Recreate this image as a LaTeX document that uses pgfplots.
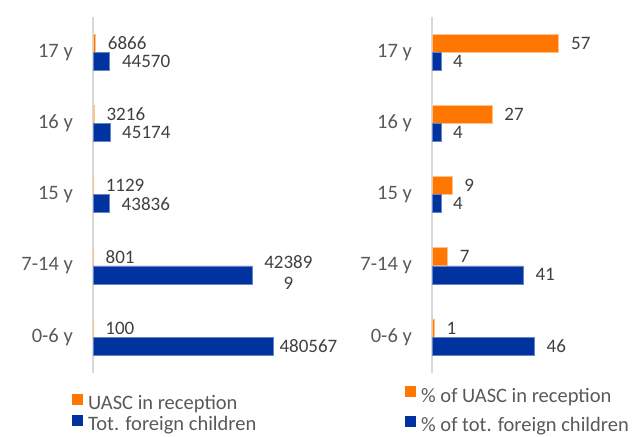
\documentclass[border=0pt]{standalone}
\usepackage{fontspec}
\setmainfont{Carlito}
\usepackage{pgfplots}
\pgfplotsset{compat=1.18}

\definecolor{uasc}{RGB}{255,119,0}
\definecolor{tot}{RGB}{0,51,160}
\definecolor{lbl}{RGB}{89,89,89}
\definecolor{val}{RGB}{64,64,64}
\definecolor{axln}{RGB}{217,217,217}

% wrapped data label as Excel shows it
\protected\def\twoline{\begin{tabular}{@{}c@{}}42389\\9\end{tabular}}

\pgfplotsset{
  hbar/.style={
    xbar, scale only axis, height=356bp, clip=false,
    ymin=-0.5, ymax=4.5, xmin=0,
    ytick={0,...,4}, yticklabels={0-6 y,7-14 y,15 y,16 y,17 y},
    axis x line=none, axis y line*=left,
    y axis line style={draw=axln, line width=1.5bp, -},
    major tick length=0pt,
    yticklabel style={font=\fontsize{20.5bp}{24bp}\selectfont, text=lbl, inner sep=0pt, xshift=-20bp},
    bar width=18bp,
    point meta=explicit symbolic,
    nodes near coords={\pgfplotspointmeta},
    nodes near coords style={font=\fontsize{19bp}{21.5bp}\selectfont, text=val,
      anchor=west, inner sep=0pt, xshift=12bp},
    legend cell align=left,
    legend image code/.code={\fill[#1, draw=none] (0bp,0bp) rectangle (11bp,11bp);},
    legend style={draw=none, fill=none, inner sep=0pt, anchor=north west,
      font=\fontsize{20.5bp}{24bp}\selectfont, text=lbl, column sep=5bp,
      nodes={inner sep=0pt, text height=14bp, text depth=4bp}},
  }
}

\begin{document}
\begin{tikzpicture}
\path[use as bounding box] (0,0) rectangle (643bp,437bp);

% left: counts
\begin{axis}[hbar, at={(93bp,64.4bp)}, anchor=south west,
    width=225bp, xmax=600000,
    legend style={at={(axis description cs:-0.0933,-0.059)}, row sep=1bp}]
\addplot[fill=uasc, draw=uasc!45, line width=0.8bp, bar shift=9bp] coordinates {
  (100,0) [100] (801,1) [801] (1129,2) [1129] (3216,3) [3216] (6866,4) [6866]};
\addlegendentry{UASC in reception}
\addplot[fill=tot, draw=tot!60, line width=0.6bp, bar shift=-9bp] coordinates {
  (480567,0) [\kern-6bp 480567] (423899,1) [\twoline] (43836,2) [43836]
  (45174,3) [45174] (44570,4) [44570]};
\addlegendentry{Tot. foreign children}
\end{axis}

% right: percentages
\begin{axis}[hbar, at={(432bp,64.4bp)}, anchor=south west,
    width=178bp, xmax=80,
    legend style={at={(axis description cs:-0.1517,-0.0375)}, row sep=9.7bp}]
\addplot[fill=uasc, draw=uasc!45, line width=0.8bp, bar shift=9bp] coordinates {
  (1,0) [1] (7,1) [7] (9,2) [9] (27,3) [27] (57,4) [57]};
\addlegendentry{\% of UASC in reception}
\addplot[fill=tot, draw=tot!60, line width=0.6bp, bar shift=-9bp] coordinates {
  (46,0) [46] (41,1) [41] (4,2) [4] (4,3) [4] (4,4) [4]};
\addlegendentry{\% of tot. foreign children}
\end{axis}
\end{tikzpicture}
\end{document}
